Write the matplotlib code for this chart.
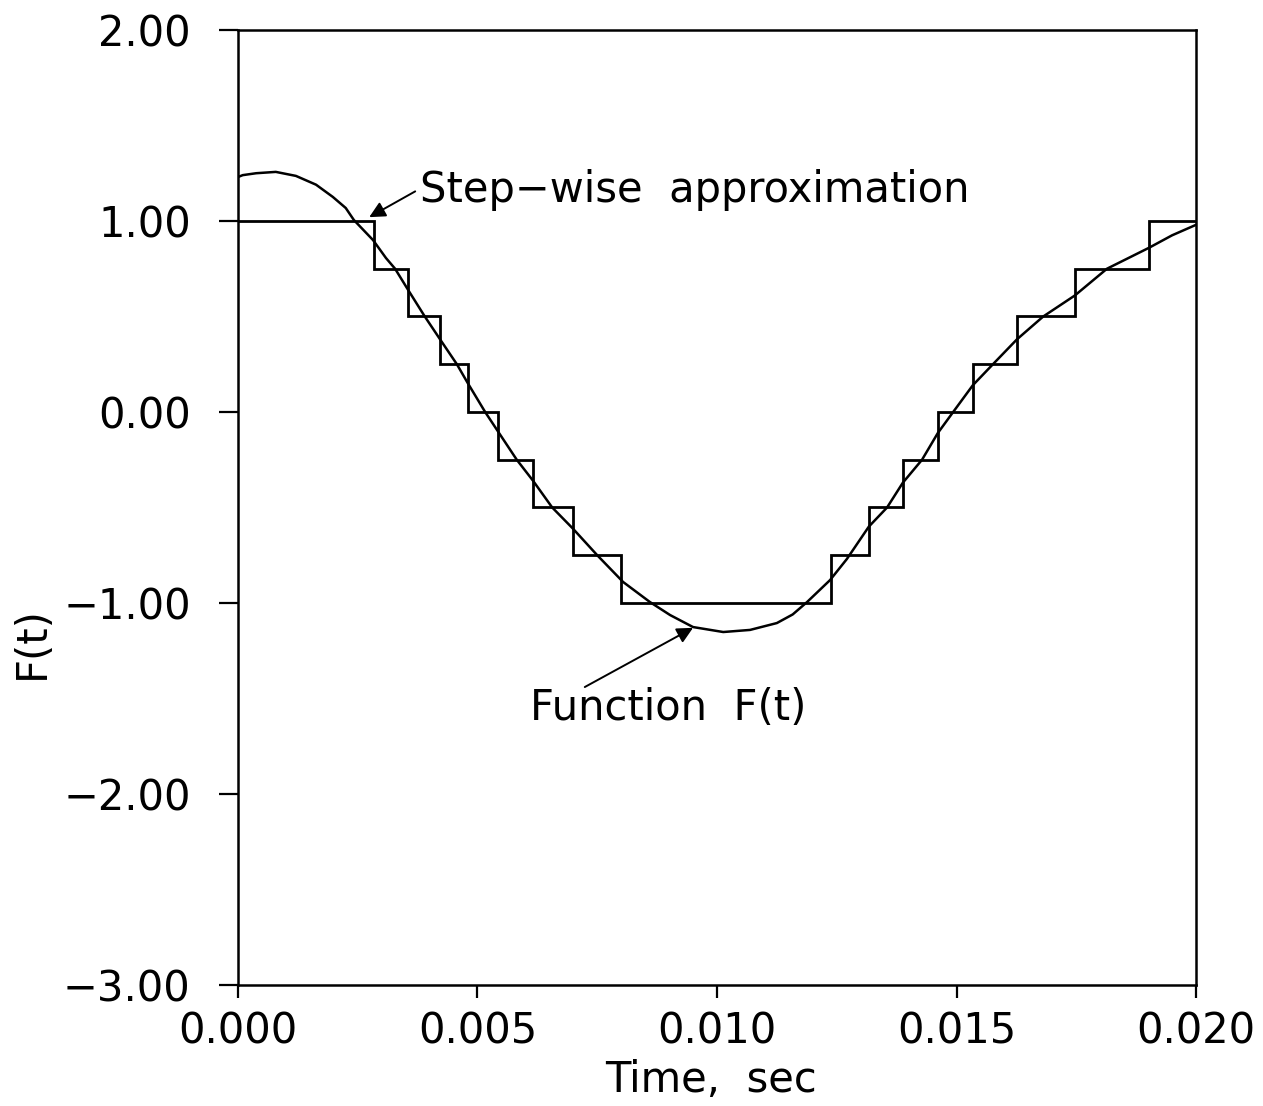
import matplotlib
matplotlib.use("Agg")
import matplotlib.pyplot as plt

# ----- values -----
# smooth function F(t)
t_curve = [0.0, 0.0001, 0.00038, 0.00079, 0.00121, 0.00163, 0.00198,
           0.00225, 0.00242, 0.00282, 0.00309, 0.00328, 0.00355, 0.0039,
           0.00422, 0.00457, 0.0048, 0.00516, 0.00545, 0.00582, 0.00616,
           0.00656, 0.00699, 0.0075, 0.00804, 0.0086, 0.00902, 0.0095,
           0.01013, 0.01069, 0.01125, 0.01158, 0.01188, 0.01236, 0.01271,
           0.01317, 0.01355, 0.01388, 0.01428, 0.01461, 0.01493, 0.01534,
           0.01576, 0.01626, 0.01681, 0.01747, 0.01814, 0.01902, 0.0195,
           0.02]
f_curve = [1.23, 1.24, 1.25, 1.257, 1.236, 1.19, 1.126,
           1.068, 1.005, 0.90, 0.806, 0.75, 0.64, 0.50,
           0.38, 0.25, 0.15, 0.0, -0.11, -0.25, -0.36,
           -0.50, -0.61, -0.75, -0.89, -0.995, -1.063, -1.126,
           -1.152, -1.141, -1.105, -1.06, -0.995, -0.88, -0.77,
           -0.60, -0.50, -0.37, -0.25, -0.11, 0.0, 0.14,
           0.25, 0.38, 0.50, 0.61, 0.75, 0.86, 0.925,
           0.98]

# step-wise approximation: bin edges and levels
step_edges = [0.0, 0.00284, 0.00355, 0.00422, 0.00480, 0.00543, 0.00616,
              0.00699, 0.00800, 0.01238, 0.01317, 0.01388, 0.01461, 0.01534,
              0.01626, 0.01747, 0.01902, 0.020]
step_levels = [1.0, 0.75, 0.5, 0.25, 0.0, -0.25, -0.5, -0.75, -1.0,
               -0.75, -0.5, -0.25, 0.0, 0.25, 0.5, 0.75, 1.0]

x_ticks = [0.000, 0.005, 0.010, 0.015, 0.020]
y_ticks = [-3.0, -2.0, -1.0, 0.0, 1.0, 2.0]

FS = 30

fig = plt.figure(figsize=(12.63, 11.06), dpi=100)
ax = fig.add_axes([0.1884, 0.1094, 0.9470 - 0.1884, 0.9729 - 0.1094])

ax.plot(t_curve, f_curve, color="black", lw=1.8)
ax.stairs(step_levels, step_edges, baseline=None, color="black", lw=2.0)

ax.set_xlim(0, 0.02)
ax.set_ylim(-3, 2)
ax.set_xticks(x_ticks)
ax.set_xticklabels([f"{v:.3f}" for v in x_ticks])
ax.set_yticks(y_ticks)
ax.set_yticklabels([f"{v:.2f}".replace("-", "\u2212") for v in y_ticks])
ax.tick_params(axis="y", direction="out", length=14, width=1.6,
               pad=20, labelsize=FS)
ax.tick_params(axis="x", direction="out", length=9, width=1.6,
               pad=9, labelsize=FS)
for s in ax.spines.values():
    s.set_linewidth(1.8)

# annotations with arrows
arrow = dict(arrowstyle="-|>", color="black", lw=1.4,
             mutation_scale=24, shrinkA=0, shrinkB=0)
ax.annotate("", xy=(0.00274, 1.02), xytext=(0.0037, 1.155),
            arrowprops=arrow)
ax.text(0.0038, 1.16, "Step\u2212wise  approximation", fontsize=FS,
        va="center", ha="left")
ax.annotate("", xy=(0.0095, -1.13), xytext=(0.00724, -1.44),
            arrowprops=arrow)
ax.text(0.0061, -1.55, "Function  F(t)", fontsize=FS, va="center",
        ha="left")

fig.text(32 / 1263, 1 - 643 / 1106, "F(t)", rotation=90, fontsize=FS,
         ha="center", va="center")
fig.text(711 / 1263, 1 - 1080 / 1106, "Time,  sec", fontsize=FS,
         ha="center", va="center")

fig.savefig("out.png", dpi=100)
